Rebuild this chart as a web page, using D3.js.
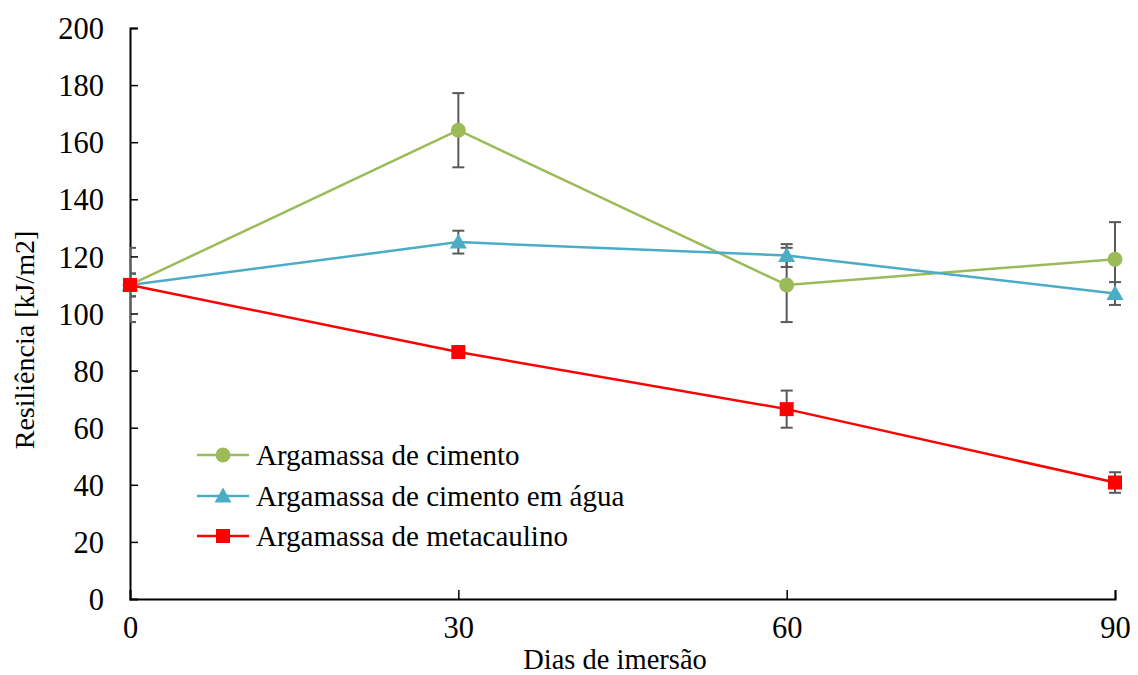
<!DOCTYPE html>
<html>
<head>
<meta charset="utf-8">
<script src="https://cdn.jsdelivr.net/npm/d3@7"></script>
<style>
  html, body { margin: 0; padding: 0; background: #fff; }
  svg { display: block; }
  svg text { font-family: "Liberation Serif", "Times New Roman", serif; fill: #000; }
</style>
</head>
<body>
<svg id="chart" width="1138" height="675"></svg>
<script>
// Immersion days (x) and resilience in kJ/m2 (y), with standard deviations
const days = [0, 30, 60, 90];
const cimento      = [110, 164.2, 110, 119];
const cimentoErr   = [13, 13, 13, 13];
const cimentoAgua  = [110, 125, 120.3, 107];
const cimentoAguaErr = [4, 4, 4, 4];
const metacaulino  = [110, 86.5, 66.5, 40.8];
const metacaulinoErr = [4, 2, 6.5, 3.6];
const seriesNames = ["Argamassa de cimento", "Argamassa de cimento em água", "Argamassa de metacaulino"];
const yTicks = [0, 20, 40, 60, 80, 100, 120, 140, 160, 180, 200];
const xTicks = [0, 30, 60, 90];

const series = [
  { name: seriesNames[0], values: cimento, err: cimentoErr, color: "#9BBB59", marker: "circle" },
  { name: seriesNames[1], values: cimentoAgua, err: cimentoAguaErr, color: "#4BACC6", marker: "triangle" },
  { name: seriesNames[2], values: metacaulino, err: metacaulinoErr, color: "#FF0000", marker: "square" }
];

const svg = d3.select("#chart");
const plotLeft = 130, plotRight = 1115, plotTop = 28, plotBottom = 599;

const x = d3.scaleLinear().domain([0, 90]).range([plotLeft, plotRight]);
const y = d3.scaleLinear().domain([0, 200]).range([plotBottom, plotTop]);

svg.append("defs").append("clipPath").attr("id", "plotClip")
  .append("rect").attr("x", plotLeft).attr("y", 0)
  .attr("width", plotRight - plotLeft + 20).attr("height", plotBottom);

// Axes with inward ticks
const yAxis = d3.axisLeft(y).tickValues(yTicks).tickSize(-8).tickPadding(26).tickFormat(d3.format("d"));
const xAxis = d3.axisBottom(x).tickValues(xTicks).tickSize(-9).tickPadding(17).tickFormat(d3.format("d"));

const gy = svg.append("g").attr("transform", `translate(${plotLeft},0)`).call(yAxis);
const gx = svg.append("g").attr("transform", `translate(0,${plotBottom})`).call(xAxis);
[gy, gx].forEach(g => {
  g.attr("font-family", null).attr("font-size", null);
  g.select(".domain").attr("stroke", "#000").attr("stroke-width", 2);
  g.selectAll(".tick line").attr("stroke", "#000").attr("stroke-width", 1.5);
  g.selectAll(".tick text").attr("font-size", 30.5);
});
gy.selectAll(".tick text").attr("dy", "0.35em");
gx.selectAll(".tick").filter(d => d === 0).select("line").remove();
gy.selectAll(".tick").filter(d => d === 0).select("line").remove();
gx.selectAll(".tick text").attr("dy", "0.71em");

// Axis titles
svg.append("text").attr("x", 615).attr("y", 669).attr("text-anchor", "middle")
  .attr("font-size", 28.5).text("Dias de imersão");
svg.append("text").attr("transform", "translate(34,340) rotate(-90)").attr("text-anchor", "middle")
  .attr("font-size", 28).text("Resiliência [kJ/m2]");

const line = d3.line().x((d, i) => x(days[i])).y(d => y(d));

function drawMarker(g, type, cx, cy, color) {
  if (type === "circle") {
    g.append("circle").attr("cx", cx).attr("cy", cy).attr("r", 7.5).attr("fill", color);
  } else if (type === "triangle") {
    const s = 8.5;
    g.append("path").attr("d", `M${cx},${cy - s} L${cx + s},${cy + s * 0.75} L${cx - s},${cy + s * 0.75} Z`)
      .attr("fill", color);
  } else {
    g.append("rect").attr("x", cx - 7).attr("y", cy - 7).attr("width", 14).attr("height", 14).attr("fill", color);
  }
}

series.forEach(s => {
  const g = svg.append("g");
  g.append("path").datum(s.values).attr("d", line)
    .attr("fill", "none").attr("stroke", s.color).attr("stroke-width", 2.5);

  // Error bars
  const eb = g.append("g").attr("clip-path", "url(#plotClip)");
  s.values.forEach((v, i) => {
    const cx = x(days[i]), y1 = y(v + s.err[i]), y2 = y(v - s.err[i]);
    eb.append("line").attr("x1", cx).attr("x2", cx).attr("y1", y1).attr("y2", y2)
      .attr("stroke", "#595959").attr("stroke-width", 2);
    [y1, y2].forEach(yy => eb.append("line").attr("x1", cx - 6).attr("x2", cx + 6)
      .attr("y1", yy).attr("y2", yy).attr("stroke", "#595959").attr("stroke-width", 2));
  });

  s.values.forEach((v, i) => drawMarker(g, s.marker, x(days[i]), y(v), s.color));
});

// Legend
const legendRows = [455, 496, 536];
series.forEach((s, i) => {
  const g = svg.append("g");
  const ly = legendRows[i];
  g.append("line").attr("x1", 197).attr("x2", 249).attr("y1", ly).attr("y2", ly)
    .attr("stroke", s.color).attr("stroke-width", 2.5);
  drawMarker(g, s.marker, 223, ly, s.color);
  g.append("text").attr("x", 256).attr("y", ly).attr("dy", "0.35em")
    .attr("font-size", 29).text(s.name);
});
</script>
</body>
</html>
